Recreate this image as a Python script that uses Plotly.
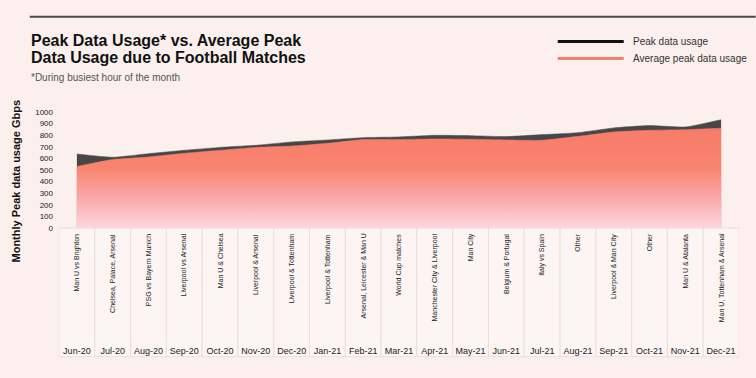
import plotly.graph_objects as go

months = ["Jun-20", "Jul-20", "Aug-20", "Sep-20", "Oct-20", "Nov-20", "Dec-20",
          "Jan-21", "Feb-21", "Mar-21", "Apr-21", "May-21", "Jun-21", "Jul-21",
          "Aug-21", "Sep-21", "Oct-21", "Nov-21", "Dec-21"]
matches = ["Man U vs Brighton", "Chelsea, Palace, Arsenal", "PSG vs Bayern Munich",
           "Liverpool vs Arsenal", "Man U & Chelsea", "Liverpool & Arsenal",
           "Liverpool & Tottenham", "Liverpool & Tottenham", "Arsenal, Leicester & Man U",
           "World Cup matches", "Manchester City & Liverpool", "Man City",
           "Belgium & Portugal", "Italy vs Spain", "Other", "Liverpool & Man City",
           "Other", "Man U & Atalanta", "Man U, Tottenham & Arsenal"]
peak = [638, 610, 641, 670, 695, 713, 742, 759, 779, 785, 799, 796, 788, 805,
        822, 863, 883, 871, 934]
average = [531, 590, 612, 644, 670, 695, 706, 730, 762, 762, 768, 765, 759, 756,
           790, 828, 842, 848, 860]
y_ticks = [0, 100, 200, 300, 400, 500, 600, 700, 800, 900, 1000]

BG = "#FBF0ED"
FONT = "Liberation Sans, Arial, sans-serif"

L, R, T, B = 59.2, 739.3, 112.3, 228.3
PW, PH = R - L, B - T


def px(x):
    return (x - L) / PW


def py(y):
    return (B - y) / PH


fig = go.Figure()
fig.add_trace(go.Scatter(
    x=months, y=peak, mode="lines", line=dict(color="#474747", width=0.5, shape="spline", smoothing=0.5),
    fill="tozeroy", fillcolor="#474747", showlegend=False, hoverinfo="skip"))
fig.add_trace(go.Scatter(
    x=months, y=average, mode="lines", line=dict(color="#F87C6B", width=0.5, shape="spline", smoothing=0.5),
    fill="tozeroy",
    fillgradient=dict(type="vertical", start=0, stop=max(average),
                      colorscale=[[0, "#FDD6E1"], [0.3, "#FAA8A8"], [0.6, "#F8856F"], [1, "#F87B69"]]),
    showlegend=False, hoverinfo="skip"))

shapes = []
annotations = []
for i, (m, t) in enumerate(zip(months, matches)):
    shapes.append(dict(type="rect", xref="x", yref="paper", x0=i - 0.5, x1=i + 0.5,
                       y0=py(357), y1=0, fillcolor="#FCF5F3",
                       line=dict(color="#EADFDC", width=1), layer="below"))
    annotations.append(dict(xref="x", yref="paper", x=i, y=py(232),
                            text=t, textangle=-90, showarrow=False, yanchor="top",
                            xanchor="center", font=dict(family=FONT, size=7, color="#222")))

# top rule
shapes.append(dict(type="line", xref="paper", yref="paper",
                   x0=px(30), x1=px(756), y0=py(17), y1=py(17),
                   line=dict(color="#4A4A4A", width=2)))
# legend samples
for yy, col in [(41.7, "#111111"), (58.7, "#F08070")]:
    shapes.append(dict(type="line", xref="paper", yref="paper",
                       x0=px(558), x1=px(624), y0=py(yy), y1=py(yy),
                       line=dict(color=col, width=3)))
for yy, txt in [(41.7, "Peak data usage"), (58.7, "Average peak data usage")]:
    annotations.append(dict(xref="paper", yref="paper", x=px(631), y=py(yy), text=txt,
                            showarrow=False, xanchor="left", yanchor="middle",
                            font=dict(family=FONT, size=10, color="#333")))

# title & subtitle
for yy, txt in [(41, "Peak Data Usage* vs. Average Peak"),
                (58, "Data Usage due to Football Matches")]:
    annotations.append(dict(xref="paper", yref="paper", x=px(29), y=py(yy),
                            yanchor="middle", xanchor="left", text="<b>" + txt + "</b>",
                            showarrow=False, font=dict(family=FONT, size=16, color="#111")))
annotations.append(dict(xref="paper", yref="paper", x=px(29), y=py(78),
                        yanchor="middle", xanchor="left",
                        text="*During busiest hour of the month", showarrow=False,
                        font=dict(family=FONT, size=10, color="#555")))
# y-axis title
annotations.append(dict(xref="paper", yref="paper", x=px(16.5), y=py(181.5),
                        xanchor="center", yanchor="middle",
                        text="<b>Monthly Peak data usage Gbps</b>", textangle=-90,
                        showarrow=False, font=dict(family=FONT, size=11, color="#111")))

fig.update_layout(
    width=756, height=378,
    margin=dict(l=L, r=756 - R, t=T, b=378 - B, pad=0),
    paper_bgcolor=BG, plot_bgcolor=BG,
    font=dict(family=FONT, color="#222"),
    shapes=shapes, annotations=annotations, showlegend=False,
    xaxis=dict(type="category", range=[-0.5, 18.5], showgrid=False, zeroline=False,
               showline=False, ticks="", ticklabelstandoff=116, automargin=False,
               tickfont=dict(family=FONT, size=9, color="#222"), tickangle=0, fixedrange=True),
    yaxis=dict(range=[0, 1000], tickvals=y_ticks, showgrid=False, zeroline=False,
               showline=False, ticks="", ticklabelstandoff=5, automargin=False,
               tickfont=dict(family=FONT, size=8, color="#222"), fixedrange=True),
)

fig.write_html("out.html", config={"displayModeBar": False},
               post_script="document.body.style.margin='0px';document.body.style.background='" + BG + "';")
